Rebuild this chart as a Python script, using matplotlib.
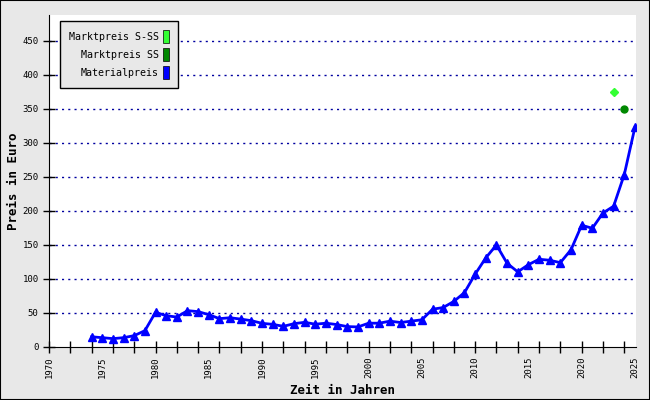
import matplotlib
matplotlib.use("Agg")
import matplotlib.pyplot as plt
from matplotlib.patches import Patch, Rectangle

# Materialpreis per year (Euro)
years = list(range(1974, 2026))
material = [15, 13.7, 12.3, 13.7, 16.7, 24, 51, 46, 44, 53.4, 52, 47.5,
            41.7, 43, 41, 38.7, 34.8, 33.3, 30.4, 34.3, 36.3, 33.5,
            35, 33, 30, 29.5, 35, 35, 38, 36, 38, 40,
            55.5, 58, 67, 80, 107, 131, 150, 123, 110.5, 121,
            129, 127.5, 124, 143, 179, 174.5, 197, 207, 253.5, 323]

# Marktpreise
sss_years = [2023]
sss_values = [375]
ss_years = [2024]
ss_values = [350]

legend_labels = ["Marktpreis S-SS", "Marktpreis SS", "Materialpreis"]
legend_colors = ["#33ff33", "#008800", "#0000ff"]

bg = "#e8e8e8"
mono = "DejaVu Sans Mono"

fig = plt.figure(figsize=(6.5, 4), dpi=100, facecolor=bg)
fig.patches.append(Rectangle((0, 0), 1, 1, transform=fig.transFigure,
                             fill=False, edgecolor="black", linewidth=1.5))
ax = fig.add_axes([49 / 650, 53 / 400, 587 / 650, 332 / 400])
ax.set_facecolor("white")

for v in range(50, 500, 50):
    ax.axhline(v, color="#0000a0", linestyle=(0, (1.5, 3)), linewidth=1, zorder=1)

ax.plot(years, material, color="#0000ff", linewidth=2, marker="^",
        markersize=6, zorder=3)
ax.plot(sss_years, sss_values, linestyle="none", marker="D", markersize=4,
        color="#33ff33", zorder=3)
ax.plot(ss_years, ss_values, linestyle="none", marker="o", markersize=5,
        color="#008800", zorder=3)

ax.set_xlim(1970, 2025.1)
ax.set_ylim(0, 488)

# tick marks every 2 years, labels every 5 years
ax.xaxis.remove_overlapping_locs = False
ax.set_xticks(range(1970, 2026, 2))
ax.set_xticklabels([])
ax.set_xticks(range(1970, 2026, 5), minor=True)
ax.set_xticklabels([str(y) for y in range(1970, 2026, 5)], minor=True,
                   rotation=90, fontsize=6.5, family=mono)
ax.tick_params(axis="x", which="major", direction="inout", length=8, width=1)
ax.tick_params(axis="x", which="minor", length=0, pad=7)

ax.set_yticks(range(0, 500, 50))
ax.set_yticklabels([str(v) for v in range(0, 500, 50)], fontsize=6.5, family=mono)
ax.tick_params(axis="y", direction="inout", length=8, width=1)

for s in ["top", "right"]:
    ax.spines[s].set_visible(False)

ax.set_xlabel("Zeit in Jahren", fontsize=9, fontweight="bold", family=mono)
ax.set_ylabel("Preis in Euro", fontsize=9, fontweight="bold", family=mono)
ax.yaxis.set_label_coords(-0.049, 0.5)
ax.xaxis.set_label_coords(0.5, -0.112)

handles = [Patch(facecolor=c, edgecolor="black", linewidth=0.5) for c in legend_colors]
leg = ax.legend(handles, legend_labels, loc="upper left", markerfirst=False,
                prop={"family": mono, "size": 7.2}, frameon=True, fancybox=False,
                handlelength=0.6, handleheight=1.7, handletextpad=0.4,
                labelspacing=0.45, borderpad=0.9, borderaxespad=0,
                bbox_to_anchor=(0.0187, 0.982))
leg.get_frame().set_facecolor(bg)
leg.get_frame().set_edgecolor("black")
leg.get_frame().set_alpha(1)
for t in leg.get_texts():
    t.set_ha("right")

fig.savefig("out.png", dpi=100, facecolor=bg)
